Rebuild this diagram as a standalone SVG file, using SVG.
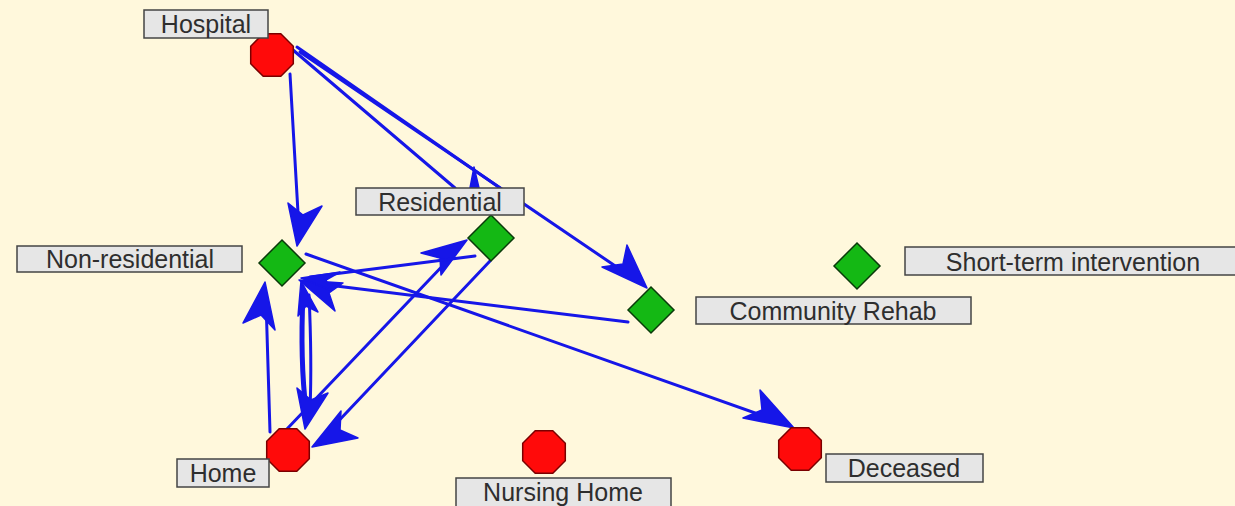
<svg xmlns="http://www.w3.org/2000/svg" width="1235" height="506" viewBox="0 0 1235 506">
  <style>
    .edge { stroke: #1616E8; stroke-width: 3; fill: none; stroke-linecap: round; }
    .thick { stroke-width: 5; }
    .head { fill: #1616E8; stroke: #1616E8; stroke-width: 1.5; stroke-linejoin: round; }
    .oct { fill: #FF0A0A; stroke: #7A0000; stroke-width: 1.5; }
    .dia { fill: #14B814; stroke: #0A3A0A; stroke-width: 1.5; }
    .lbl { fill: #E6E6E6; stroke: #444; stroke-width: 1.5; }
    .txt { font-family: "Liberation Sans", Arial, sans-serif; font-size: 25px; fill: #2E2E2E; text-anchor: middle; }
  </style>
  <defs>
    <polygon id="octagon" points="8.8,-21.3 21.3,-8.8 21.3,8.8 8.8,21.3 -8.8,21.3 -21.3,8.8 -21.3,-8.8 -8.8,-21.3"/>
    <polygon id="diamond" points="0,-23 23,0 0,23 -23,0"/>
  </defs>
  <rect width="1235" height="506" fill="#FFF8DC"/>

  <g id="connectors">
    <!-- Hospital -> Non-residential -->
    <line class="edge" x1="290" y1="74" x2="299" y2="230"/>
    <polygon class="head" points="297,246 288,203 303,215 322,206"/>
    <!-- Hospital -> Residential (two parallel strokes) -->
    <line class="edge" x1="293" y1="50" x2="455" y2="188"/>
    <line class="edge" x1="297" y1="47" x2="500" y2="188"/>
    <polygon class="head" points="474,167 470,188 479,188"/>
    <!-- Hospital -> Community Rehab -->
    <line class="edge" x1="300" y1="52" x2="630" y2="276"/>
    <polygon class="head" points="647,288 627,245 623,264 602,267"/>
    <!-- Non-residential -> Deceased -->
    <line class="edge" x1="306" y1="254" x2="775" y2="420"/>
    <polygon class="head" points="794,428 760,390 762,410 743,418"/>
    <!-- Home -> Residential -->
    <line class="edge" x1="286" y1="430" x2="450" y2="258"/>
    <polygon class="head" points="467,240 421,253 440,258 441,275"/>
    <!-- Residential -> Home -->
    <line class="edge" x1="490" y1="261" x2="330" y2="430"/>
    <polygon class="head" points="312,447 358,438 340,430 341,411"/>
    <!-- Residential -> Non-residential -->
    <line class="edge" x1="475" y1="256" x2="310" y2="277"/>
    <!-- Community Rehab -> Non-residential -->
    <line class="edge" x1="628" y1="322" x2="320" y2="284"/>
    <polygon class="head" points="299,280 343,283 329,293 335,311"/>
    <polygon class="head" points="301,278 340,272 326,280 330,290"/>
    <!-- Non-residential <-> Home (doubled stroke) -->
    <path class="edge thick" d="M303,295 Q300,360 306,410"/>
    <path class="edge" d="M309,295 Q312,360 310,410"/>
    <polygon class="head" points="305,429 297,388 311,400 328,393"/>
    <polygon class="head" points="301,281 298,316 306,306 318,312"/>
    <!-- Home -> Non-residential -->
    <line class="edge" x1="270" y1="432" x2="266" y2="300"/>
    <polygon class="head" points="265,282 243,323 261,315 275,330"/>
  </g>

  <g id="hospital">
    <use href="#octagon" class="oct" x="272" y="55"/>
    <rect class="lbl" x="144" y="10" width="124" height="28"/>
    <text class="txt" x="206" y="33">Hospital</text>
  </g>
  <g id="residential">
    <use href="#diamond" class="dia" x="491" y="238"/>
    <rect class="lbl" x="356" y="188" width="168" height="27"/>
    <text class="txt" x="440" y="211">Residential</text>
  </g>
  <g id="non-residential">
    <use href="#diamond" class="dia" x="282" y="263"/>
    <rect class="lbl" x="17" y="246" width="225" height="26"/>
    <text class="txt" x="130" y="268">Non-residential</text>
  </g>
  <g id="community-rehab">
    <use href="#diamond" class="dia" x="651" y="310"/>
    <rect class="lbl" x="696" y="297" width="275" height="27"/>
    <text class="txt" x="833" y="320">Community Rehab</text>
  </g>
  <g id="short-term-intervention">
    <use href="#diamond" class="dia" x="857" y="266"/>
    <rect class="lbl" x="905" y="247" width="332" height="28"/>
    <text class="txt" x="1073" y="271">Short-term intervention</text>
  </g>
  <g id="home">
    <use href="#octagon" class="oct" x="288" y="450"/>
    <rect class="lbl" x="177" y="459" width="92" height="28"/>
    <text class="txt" x="223" y="482">Home</text>
  </g>
  <g id="nursing-home">
    <use href="#octagon" class="oct" x="544" y="452"/>
    <rect class="lbl" x="456" y="478" width="215" height="30"/>
    <text class="txt" x="563" y="501">Nursing Home</text>
  </g>
  <g id="deceased">
    <use href="#octagon" class="oct" x="800" y="449"/>
    <rect class="lbl" x="826" y="454" width="157" height="28"/>
    <text class="txt" x="904" y="477">Deceased</text>
  </g>
</svg>
